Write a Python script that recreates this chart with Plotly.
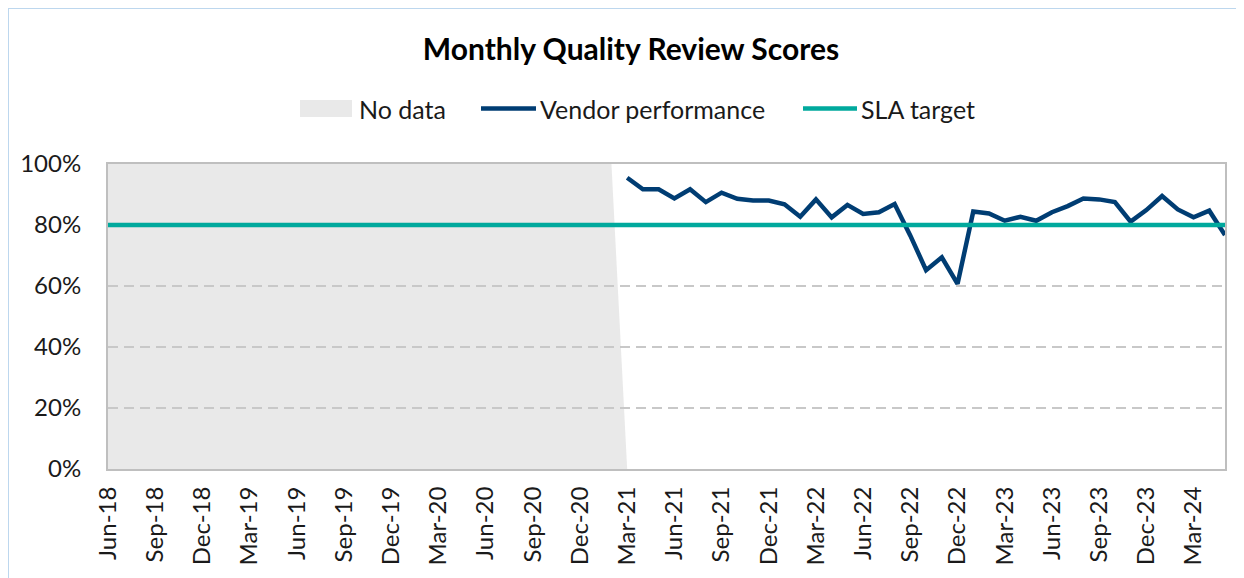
import pandas as pd
import plotly.graph_objects as go

# ---------------- data ----------------
months = list(pd.date_range("2018-06-01", "2024-05-01", freq="MS").strftime("%b-%y"))

# months with no data (Jun-18 .. Feb-21) shown as a full-height grey band, dropping to 0 at Mar-21
no_data_months = months[:34]
no_data_values = [1.0] * 33 + [0.0]

# vendor performance, Mar-21 .. May-24
vendor_months = months[33:]
vendor_values = [
    0.955, 0.917, 0.917, 0.887, 0.917, 0.875, 0.906, 0.886, 0.880, 0.880,  # Mar-21 .. Dec-21
    0.868, 0.827, 0.884, 0.825, 0.866, 0.836, 0.842, 0.869,                # Jan-22 .. Aug-22
    0.765, 0.652, 0.694, 0.607,                                            # Sep-22 .. Dec-22
    0.844, 0.838, 0.814, 0.827, 0.814, 0.842, 0.862, 0.887, 0.884, 0.875,  # Jan-23 .. Oct-23
    0.811, 0.849, 0.895, 0.851, 0.825, 0.847, 0.767,                       # Nov-23 .. May-24
]

# SLA target line across the whole period
sla_months = months
sla_values = [0.80] * len(months)

tick_labels = months[::3]
y_ticks = [0, 0.2, 0.4, 0.6, 0.8, 1.0]

# ---------------- styling ----------------
FONT = "Lato"
NAVY = "#003D73"
TEAL = "#00A99D"
# translucent grey: over white it reads as #E9E9E9, while the #C8C8C8 gridlines show through unchanged
BAND_FILL = "rgba(200,200,200,0.4)"
GREY_SWATCH = "#E9E9E9"
GRID = "#C8C8C8"
TEXT = "#1A1A1A"
DASH = "10px,6px"

# page has an 8px body margin: figure origin sits at (8, 8) on the page
OX, OY = 8, 8
W, H = 1230, 578
# plot area edges in page pixels
L, R, T, B = 108, 1225, 164, 469


def xp(px):
    return (px - L) / (R - L)


def yp(py):
    return (B - py) / (B - T)


fig = go.Figure()

fig.add_trace(go.Scatter(
    x=no_data_months, y=no_data_values, name="No data",
    mode="lines", line=dict(width=0, color=BAND_FILL),
    fill="tozeroy", fillcolor=BAND_FILL, hoverinfo="skip",
    showlegend=False,
))
fig.add_trace(go.Scatter(
    x=vendor_months, y=vendor_values, name="Vendor performance",
    mode="lines", line=dict(width=4.5, color=NAVY),
    showlegend=False,
))
fig.add_trace(go.Scatter(
    x=sla_months, y=sla_values, name="SLA target",
    mode="lines", line=dict(width=4.5, color=TEAL),
    showlegend=False,
))

shapes = []
# outer chart border
shapes.append(dict(type="rect", xref="paper", yref="paper",
                   x0=xp(8), x1=xp(1237), y0=yp(640), y1=yp(8),
                   line=dict(color="#BDD7EE", width=2), layer="below"))

# manual legend (matches the wide swatches of the original)
ly = yp(108.5)
shapes.append(dict(type="rect", xref="paper", yref="paper",
                   x0=xp(300), x1=xp(352), y0=yp(117), y1=yp(100),
                   line=dict(width=0), fillcolor=GREY_SWATCH))
shapes.append(dict(type="line", xref="paper", yref="paper",
                   x0=xp(481), x1=xp(536), y0=ly, y1=ly, line=dict(color=NAVY, width=4.5)))
shapes.append(dict(type="line", xref="paper", yref="paper",
                   x0=xp(803), x1=xp(857), y0=ly, y1=ly, line=dict(color=TEAL, width=4.5)))

annotations = []
for label, px in [("No data", 357), ("Vendor performance", 538), ("SLA target", 859)]:
    annotations.append(dict(text=label, xref="paper", yref="paper", x=xp(px), y=ly,
                            xanchor="left", yanchor="middle", showarrow=False,
                            font=dict(family=FONT, size=25, color=TEXT)))

fig.update_layout(
    width=W, height=H, autosize=False,
    margin=dict(l=L - OX, r=(OX + W) - R, t=T - OY, b=(OY + H) - B, pad=0),
    paper_bgcolor="white", plot_bgcolor="white",
    font=dict(family=FONT, size=24, color=TEXT),
    showlegend=False,
    shapes=shapes,
    annotations=annotations,
    title=dict(
        text="<b>Monthly Quality Review Scores</b>",
        font=dict(family=FONT, size=30, color="#000000"),
        x=(631 - OX) / W, xanchor="center", xref="container",
        y=1 - (49 - OY) / H, yanchor="middle", yref="container",
    ),
    xaxis=dict(
        type="category", categoryorder="array", categoryarray=months,
        range=[0, len(months) - 1],
        tickmode="array", tickvals=tick_labels, ticktext=tick_labels,
        tickangle=-90, ticks="", ticklabelstandoff=6,
        showgrid=False, zeroline=False,
        showline=True, linecolor="#BFBFBF", linewidth=2, mirror=True,
        tickfont=dict(family=FONT, size=24, color=TEXT),
    ),
    yaxis=dict(
        range=[0, 1], tickvals=y_ticks, tickformat=".0%",
        showgrid=True, gridcolor=GRID, gridwidth=2, griddash=DASH,
        zeroline=False, ticks="", ticklabelstandoff=20,
        showline=True, linecolor="#BFBFBF", linewidth=2, mirror=True,
        tickfont=dict(family=FONT, size=24, color=TEXT),
    ),
)

fig.write_html("out.html")
